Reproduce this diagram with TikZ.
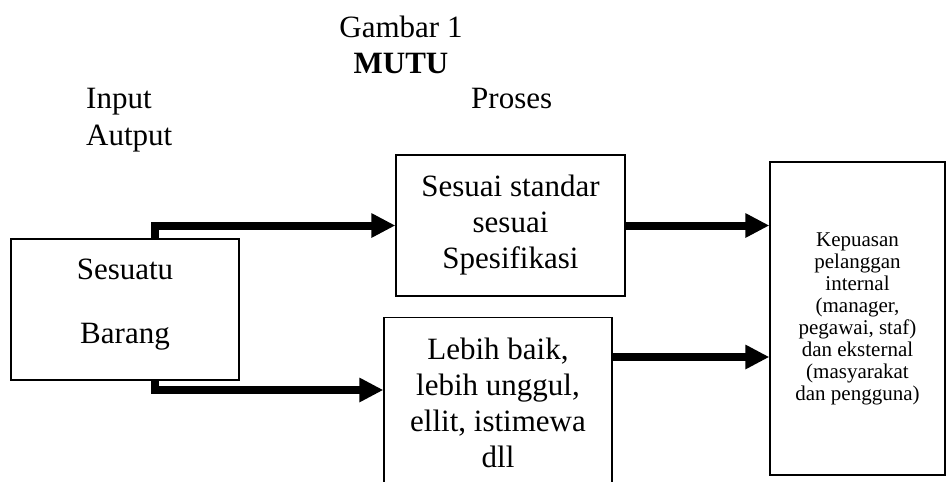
\documentclass[tikz,border=0pt]{standalone}
\usepackage{fontspec}
\setmainfont{Liberation Serif}
\usetikzlibrary{arrows.meta}

\begin{document}
\begin{tikzpicture}[x=1pt,y=-1pt,font=\fontsize{31}{36}\selectfont,
  kotak/.style={draw,line width=1.3pt,align=center,inner sep=0pt},
  panah/.style={line width=8pt,-{Triangle[length=24pt,width=23pt]}}]
  \useasboundingbox (0,0) rectangle (946,482);
  \node [anchor=north,align=center,inner sep=0pt] (judul) at (401,16) {Gambar 1\\[0pt]\textbf{MUTU}};
  \node [anchor=north west,align=left,inner sep=0pt] (input) at (86,87.5) {Input\\[1pt]Autput};
  \node [anchor=base west,inner sep=0pt] (proses) at (471,108) {Proses};
  \node [kotak,minimum width=228pt,minimum height=141pt] (barang) at (125,309.5) {Sesuatu\\[28pt]Barang\rule[-17pt]{0pt}{17pt}};
  \node [kotak,minimum width=229pt,minimum height=141pt] (standar) at (510.5,225.5) {Sesuai standar\\sesuai\\Spesifikasi};
  \node [kotak,anchor=north,minimum width=228pt,inner ysep=20pt] (unggul) at (498,317) {Lebih baik,\\lebih unggul,\\ellit, istimewa\\dll};
  \node [kotak,minimum width=175pt,minimum height=313pt,font=\fontsize{21}{22}\selectfont] (kepuasan) at (857.5,318.5)
    {Kepuasan\\pelanggan\\internal\\(manager,\\pegawai, staf)\\dan eksternal\\(masyarakat\\dan pengguna)};
  \draw [panah] ([xshift=30pt]barang.north) |- (standar.west);
  \draw [panah] ([xshift=30pt]barang.south) |- ([yshift=-73pt]unggul.north west);
  \draw [panah] (standar.east) -- (standar.east -| kepuasan.west);
  \draw [panah] ([yshift=-40pt]unggul.north east) -- ([yshift=-40pt]unggul.north east -| kepuasan.west);
\end{tikzpicture}
\end{document}
